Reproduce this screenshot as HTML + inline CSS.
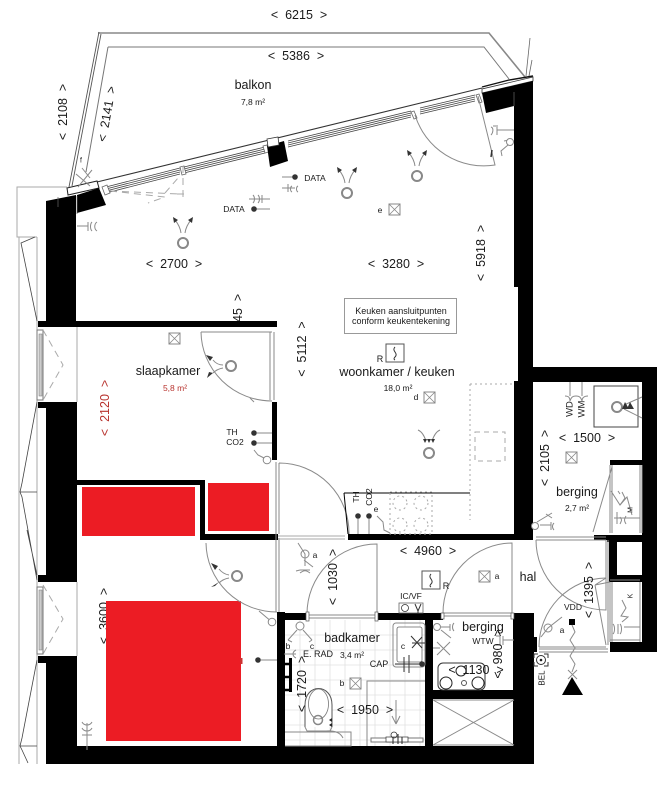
<!DOCTYPE html>
<html>
<head>
<meta charset="utf-8">
<style>
html,body{margin:0;padding:0;background:#fff;width:670px;height:800px;overflow:hidden}
svg{display:block;filter:blur(.3px)}
text{font-family:"Liberation Sans",sans-serif;fill:#1a1a1a;text-anchor:middle;dominant-baseline:central}
.d{font-size:12.5px}
.s{font-size:8.5px}
.g{fill:none;stroke:#8a8a8a;stroke-width:1}
.k{fill:none;stroke:#333;stroke-width:1}
.l{fill:none;stroke:#aaa;stroke-width:1}
.dash{fill:none;stroke:#aaa;stroke-width:1;stroke-dasharray:7 5}
.dot{fill:none;stroke:#aaa;stroke-width:1;stroke-dasharray:2 3}
.w{fill:#000}
</style>
</head>
<body>
<svg width="670" height="800" viewBox="0 0 670 800" xmlns="http://www.w3.org/2000/svg">
<defs>
<g id="xb"><rect x="0" y="0" width="11" height="11" fill="#fff" stroke="#888" stroke-width="1"/><path d="M0 0L11 11M11 0L0 11" stroke="#888" stroke-width=".8"/></g>
<g id="ring"><circle cx="0" cy="0" r="5" fill="none" stroke="#888" stroke-width="2"/></g>
<g id="up"><circle cx="0" cy="0" r="5" fill="none" stroke="#888" stroke-width="2"/><path d="M-2 -10Q-3 -17 -8 -23M2 -10Q3 -17 8 -23" class="g"/><path d="M-10 -26L-5 -23L-9 -20ZM10 -26L5 -23L9 -20Z" fill="#333"/></g>
</defs>

<!-- tile grid bathroom -->
<path d="M285 635H425M285 650H425M285 665H425M285 680H425M285 695H425M285 710H425M285 725H425M285 740H425M300 620V746M315 620V746M330 620V746M345 620V746M360 620V746M375 620V746M390 620V746M405 620V746M420 620V746" stroke="#e2e2e2" stroke-width=".8" fill="none"/>

<!-- left gallery -->
<path d="M67 187H17V237H37M19 237V764M37 237V764" class="l" stroke-width="1.2"/>
<path d="M35 237L21 243L37 321M37 402L22 483L20 492L22 497L37 580M27 530L37 575M37 660L22 738L20 746L22 750L28 763M20 492H37M20 746H37" fill="none" stroke="#444" stroke-width=".8"/>

<!-- balcony -->
<path d="M98 33H489L525 77" fill="none" stroke="#888" stroke-width="1.6"/>
<path d="M99 32L69 187M101 34L72 186" fill="none" stroke="#555" stroke-width=".9"/>
<path d="M108 47H484L509 79M108 47L86 172" fill="none" stroke="#777" stroke-width="1"/>
<path d="M97 182L482 88" fill="none" stroke="#333" stroke-width="1.1"/>
<path d="M530 38L526 76M532 60L529 76" fill="none" stroke="#666" stroke-width=".8"/>
<path d="M482 87L509 80L533 76" fill="none" stroke="#111" stroke-width="1.4"/>
<path d="M482 89V93L533 81V77Z" fill="#fff" stroke="#333" stroke-width=".8"/>
<path d="M67 188L97 181L99 188L68 195Z" fill="#fff" stroke="#222" stroke-width="1"/>
<path d="M76 174L90 186M82 168L90 178M92 170L78 187" class="g" stroke-width=".8"/>
<text x="81" y="161" class="s" style="font-size:7px">f</text>
<!-- window tracks -->
<path d="M106 187L180 168M106 189L180 170M106 191L180 172M106 193L180 174M184 167L265 147M184 169L265 149M184 171L265 151M184 173L265 153M288 141L411 111M288 143L411 113M288 145L411 115M288 147L411 117M420 108L475 95M420 110L475 97M420 112L475 99M420 114L475 101" fill="none" stroke="#444" stroke-width=".8"/>
<path d="M180 167l4 -1l2 8l-4 1zM263 146l4 -1l2 7l-4 1zM411 112l3 -1l3 7l-3 1zM476 95l3 -1l3 8l-3 1zM102 187l5 -2l3 8l-5 2z" fill="#fff" stroke="#666" stroke-width=".8"/>
<!-- mid facade column -->
<path d="M267 146L284 141L288 161L270 167Z" fill="#000"/>
<path d="M267 139L278 137L279 145L268 147Z" fill="#fff" stroke="#333" stroke-width=".8"/>

<!-- hidden by walls: dims -->
<text class="d" transform="translate(238,322) rotate(-90)">&lt;&nbsp;&nbsp;1345&nbsp;&nbsp;&gt;</text>
<rect x="225" y="327" width="30" height="30" fill="#fff"/>
<text class="d" transform="translate(104,616) rotate(-90)">&lt;&nbsp;&nbsp;3600&nbsp;&nbsp;&gt;</text>
<!-- walls -->
<g class="w">
<path d="M46 201L76 195V327H38V321H46Z"/>
<path d="M77 195L99 188L106 205L77 213Z"/>
<path d="M76 321H277V327H76Z"/>
<rect x="38" y="402" width="8" height="6"/>
<rect x="46" y="402" width="31" height="173"/>
<rect x="38" y="575" width="39" height="7"/>
<rect x="38" y="656" width="39" height="7"/>
<rect x="46" y="656" width="31" height="108"/>
<rect x="76" y="746" width="458" height="18"/>
<path d="M482 93L533 81V367H657V652H610V642H642V582H609V575H642V542H617V575H609V542H607V535H642V465H610V460H642V382H533V540H514V381H518V287H514V106L486 113Z"/>
<rect x="77" y="480" width="128" height="5"/>
<rect x="200" y="480" width="5" height="60"/>
<rect x="200" y="534" width="78" height="6"/>
<rect x="272" y="402" width="5" height="58"/>
<rect x="348" y="534" width="166" height="6"/>
<rect x="277" y="612" width="8" height="134"/>
<rect x="285" y="613" width="22" height="7"/>
<rect x="378" y="613" width="65" height="7"/>
<rect x="425" y="620" width="8" height="126"/>
<rect x="433" y="690" width="81" height="9"/>
<rect x="433" y="746" width="81" height="18"/>
<rect x="513" y="613" width="21" height="151"/>
<rect x="533" y="637" width="4" height="15"/>
<rect x="594" y="535" width="13" height="5"/>
</g>
<path d="M58 197V207M77 196V214M514 92V106" stroke="#666" stroke-width=".7" fill="none"/>

<!-- left windows -->
<g>
<path d="M77 327V402M77 582V656" class="l" stroke-width="1.2"/>
<rect x="37" y="330" width="6" height="70" fill="#fff" stroke="#777"/>
<rect x="39" y="334" width="3" height="62" fill="#ccc" stroke="#777" stroke-width=".5"/>
<rect x="37" y="587" width="6" height="67" fill="#fff" stroke="#777"/>
<rect x="39" y="590" width="3" height="60" fill="#ccc" stroke="#777" stroke-width=".5"/>
<path d="M43 330L63 365L43 400M43 585L63 619L43 654" class="dash"/>
</g>
<path d="M110 191L165 197L148 203M110 191L180 194M165 193L178 178M183 166V200M177 194H188" class="dash" stroke-width=".8"/>

<!-- red furniture -->
<rect x="82" y="487" width="113" height="49" fill="#ec1c24"/>
<rect x="208" y="483" width="61" height="48" fill="#ec1c24"/>
<rect x="106" y="601" width="135" height="140" fill="#ec1c24"/>
<rect x="240" y="658" width="2.5" height="6" fill="#c33"/>

<!-- doors -->
<g class="g">
<path d="M415 115A72 72 0 0 0 495 165L478 96"/>
<path d="M201 332H272M201 332A71 70 0 0 0 272 401M270 332V400M274 332V400"/>
<path d="M279 463A70 70 0 0 1 349 534M279 463V534M276 462V612M279 538V612"/>
<path d="M206 543A71 70 0 0 0 277 612"/>
<path d="M307 614A70 70 0 0 1 377 544V614M307 615H377M307 618H377"/>
<path d="M443 613A70 70 0 0 1 512 543V613M443 613H512M443 616H512"/>
<path d="M536 540A70 70 0 0 0 606 610V540M536 537H606M536 540H606"/>
<path d="M539 647A68 69 0 0 1 606 578M539 647H606M539 652H608M539 649H608"/>
<path d="M595 585L606 645M595 585L610 582M595 585L606 578"/>
<path d="M612 467L593 532M612 465V533M610 465V533M640 465V533M642 465V533"/>
<path d="M610 582V642M640 582V642M610 580H640M610 640H640M612 582V642"/>
<path d="M606 540V610M608 540V645"/>
</g>
<path d="M278 536H345M278 539H345" class="l"/>
<rect x="306" y="612" width="3" height="9" fill="#fff" stroke="#555" stroke-width=".7"/>
<rect x="375" y="612" width="3" height="9" fill="#fff" stroke="#555" stroke-width=".7"/>
<rect x="441" y="613" width="3" height="6" fill="#fff" stroke="#555" stroke-width=".7"/>
<rect x="511" y="613" width="3" height="6" fill="#fff" stroke="#555" stroke-width=".7"/>

<!-- shaft X -->
<path d="M433 700H514M433 745H514M433 700L514 745M514 700L433 745" class="g"/>

<!-- note box -->
<rect x="344.500" y="298.500" width="112" height="35" fill="#fff" stroke="#999"/>
<text x="401" y="311" style="font-size:9px">Keuken aansluitpunten</text>
<text x="401" y="321" style="font-size:9px">conform keukentekening</text>

<!-- kitchen -->
<path d="M344 493H470M344 493L348 534" fill="none" stroke="#000" stroke-width="1"/>
<path d="M470 384H514M470 384V520" class="dot"/>
<rect x="475" y="432" width="30" height="29" fill="none" stroke="#aaa" stroke-dasharray="5 4"/>
<rect x="390" y="492" width="42" height="42" class="dot"/>
<g class="dot"><circle cx="400" cy="503" r="7"/><circle cx="421" cy="503" r="7"/><circle cx="400" cy="525" r="7"/><circle cx="421" cy="525" r="7"/></g>
<circle cx="358" cy="516" r="2.800" fill="#333"/><circle cx="369" cy="516" r="2.800" fill="#333"/>
<path d="M358 519V534M369 519V534M377 516L383 522L384 530L390 533" class="g"/>

<!-- berging top -->
<rect x="594" y="386" width="44" height="41" fill="#fff" stroke="#444" stroke-width="1"/>
<use href="#ring" x="617" y="407"/>
<path d="M624 405L642 397M624 409L642 418" class="g"/>
<path d="M625 402L629 409H622ZM630 402L634 409H627Z" fill="#333"/>
<path d="M570 382V396M582 382V396M565 396C569 396 570 398 570 401C571 398 572 396 576 396C580 396 581 398 582 401C582 398 584 396 588 396" class="g"/>
<!-- berging bottom sockets -->
<path d="M611 491L620 505L627 497L632 515M614 518H640M617 512V524M620 517C622 520 622 520 620 524M626 516C624 519 624 521 626 524" class="g"/>
<path d="M540 525H551M551 522V530M554 523C552 525 552 528 554 530M537 522L552 513M546 514L552 518" class="g"/>
<circle cx="535" cy="526" r="3.500" fill="#fff" stroke="#888"/>

<!-- misc sensors -->
<use href="#up" x="183" y="243"/>
<use href="#up" x="347" y="193"/>
<use href="#up" x="417" y="176"/>
<g transform="translate(429,453)"><circle r="5" fill="none" stroke="#888" stroke-width="2"/><path d="M-3 -12Q-6 -21 -11 -23M3 -12Q6 -21 11 -23" class="g"/><path d="M-4 -10L-6 -14H-2ZM4 -10L6 -14H2ZM0 -10L-2 -14H2Z" fill="#333"/></g>
<g transform="translate(231,366)"><circle r="5" fill="none" stroke="#888" stroke-width="2"/><path d="M-8 -1Q-14 -1 -18 -6M-8 2Q-14 3 -18 7" class="g"/><path d="M-25 -11L-18 -9L-21 -5ZM-24 12L-18 7L-22 6Z" fill="#333"/></g>
<g transform="translate(237,576)"><circle r="5" fill="none" stroke="#888" stroke-width="2"/><path d="M-8 -1Q-14 -2 -18 -7M-8 2Q-14 3 -18 7" class="g"/><path d="M-26 -13L-19 -10L-22 -6ZM-26 11L-18 6L-22 10Z" fill="#333"/></g>
<use href="#xb" x="389" y="204"/>
<use href="#xb" x="169" y="333"/>
<use href="#xb" x="424" y="392"/>
<use href="#xb" x="566" y="452"/>
<use href="#xb" x="350" y="678"/>
<use href="#xb" x="479" y="571"/>
<!-- R boxes -->
<rect x="386" y="344" width="18" height="18" fill="#fff" stroke="#555"/>
<path d="M395 347C391 351 399 353 395 357Q393 359 395 360" class="k"/>
<rect x="422" y="571" width="18" height="18" fill="#fff" stroke="#555"/>
<path d="M431 574C427 578 435 580 431 584Q429 586 431 587" class="k"/>
<!-- DATA -->
<path d="M282 177H295M255 209H270M249 199H270M282 188H295" class="g"/>
<circle cx="295" cy="177" r="2.800" fill="#333"/>
<circle cx="254" cy="209" r="2.800" fill="#333"/>
<path d="M288 184V192M292 186C290 187 290 191 292 192M298 186C296 187 296 191 298 192M262 195V203M258 195C260 197 260 201 258 203M253 195C255 197 255 201 253 203" class="g" stroke-width=".8"/>
<path d="M77 226H88M88 222V231M92 222C90 224 90 229 92 231M97 222C94 224 94 229 97 231" class="g"/>
<path d="M514 130H497M497 125V135M491 127C494 128 493 133 491 135M496 126H493" class="g"/>
<path d="M514 141H509M504 141l5 -1l-1 5l-7 6l1 5M509 141" class="g"/><circle cx="510" cy="142" r="3.500" fill="#fff" stroke="#888"/>
<path d="M492 150L491 157" stroke="#333" stroke-width="1.500"/>
<!-- TH CO2 -->
<circle cx="254" cy="433" r="2.800" fill="#333"/><circle cx="254" cy="443" r="2.800" fill="#333"/>
<path d="M257 433H272M257 443H272M254 450L258 455L264 458L268 460" class="g"/>
<circle cx="267" cy="460" r="3.800" fill="#fff" stroke="#888"/>
<path d="M250 398L254 402" class="g"/>
<!-- bed socket + lamp -->
<circle cx="258" cy="660" r="2.800" fill="#333"/><path d="M261 660H277" class="g"/>
<path d="M87 750V723M82 722C84 726 90 726 92 722M82 728C84 732 90 732 92 728M82 735H92" class="g"/>
<path d="M259 611L266 617L272 622" class="g"/><circle cx="272" cy="622" r="3.800" fill="#fff" stroke="#888"/>
<!-- a lamp hall -->
<circle cx="305" cy="554" r="4" fill="#fff" stroke="#888"/><path d="M298 543L305 554V566M304 560L313 567M300 570H310M300 573C304 570 306 570 310 573M296 571L300 570" class="g"/>
<!-- bath lamps -->
<circle cx="300" cy="626" r="4" fill="#fff" stroke="#888"/><path d="M297 630L288 640M303 630L312 640M288 640L292 642M312 640L309 642" class="g"/>
<path d="M284 654H296M296 650C292 652 292 656 296 658" class="g"/>
<rect x="289" y="658" width="3" height="34" fill="#000"/>
<path d="M285 664H291M285 677H291M285 690H291" stroke="#000" stroke-width="2.500"/>
<!-- toilet -->
<path d="M305 727V705C305 683 332 683 332 705V727" fill="#fff" stroke="#555"/>
<ellipse cx="318.500" cy="704" rx="10" ry="15" fill="none" stroke="#777" stroke-width=".8"/>
<circle cx="318" cy="720" r="4.500" fill="none" stroke="#888" stroke-width="1.500"/>
<path d="M305 727L307 731H330L332 727M307 731H326Q339 730 343 738M285 732H351V746H285" class="g"/>
<path d="M332 718L329 720L332 722ZM332 723L329 725L332 727Z" fill="#222"/>
<!-- shower -->
<rect x="393" y="623" width="32" height="44" rx="3" fill="none" stroke="#888" stroke-width="1"/>
<rect x="397" y="627" width="25" height="35" rx="2" fill="#fff" stroke="#666" stroke-width=".8"/>
<path d="M412 643L425 643M411 636L422 648M422 637L412 648M395 664H421M404 657V672M409 655V673" class="k" stroke-width=".7"/>
<circle cx="422" cy="664" r="2.800" fill="#333"/>
<path d="M367 746V681H425M396 700V724M396 724L392 716M396 724L400 716" class="g"/>
<rect x="371" y="738" width="52" height="4" fill="#fff" stroke="#777"/>
<rect x="386" y="737" width="22" height="5" fill="#fff" stroke="#333" stroke-width=".7"/>
<path d="M393 737V744M398 734V744M402 737V744" stroke="#222" fill="none"/>
<circle cx="394" cy="735" r="3" fill="none" stroke="#333" stroke-width=".8"/>
<!-- IC/VF -->
<rect x="399" y="603" width="24" height="10" fill="#fff" stroke="#666" stroke-width=".8"/>
<circle cx="405" cy="608" r="3.500" fill="none" stroke="#333" stroke-width=".8"/><path d="M415 604L418 611M421 604L418 611M418 611V613" class="k"/>
<!-- berging small -->
<circle cx="437" cy="627" r="3.500" fill="#fff" stroke="#888"/>
<path d="M441 627H450M450 624V631M454 623C452 625 452 629 454 631M441 630L451 638M433 648H440" class="g"/>
<path d="M437 642L450 655M450 642L437 655" class="g"/>
<path d="M514 640H503M503 636V645M496 636H500V645H496" class="g"/>
<rect x="438" y="663" width="47" height="27" rx="5" fill="none" stroke="#333"/>
<circle cx="446" cy="683" r="6" fill="#fff" stroke="#222"/>
<circle cx="478" cy="683" r="6" fill="#fff" stroke="#222"/>
<circle cx="464" cy="683" r="2.500" fill="#fff" stroke="#555"/>
<circle cx="461" cy="671" r="5" fill="#fff" stroke="#222"/>
<!-- hall -->
<circle cx="548" cy="628" r="4" fill="#fff" stroke="#888"/><path d="M541 637L548 628L562 617" class="g"/>
<rect x="569" y="619" width="6" height="6" fill="#000"/>
<path d="M572 625L575 632L570 640L575 648L570 656L575 664L572 672M568 670L577 679M577 670L568 679" class="g"/>
<path d="M572 677L583 695H562Z" fill="#000"/>
<path d="M534 658V654H538M544 654H548V658M548 662V666H544M538 666H534V662" class="k"/>
<circle cx="541" cy="660" r="4.500" fill="none" stroke="#333"/><circle cx="541" cy="660" r="1.300" fill="#222"/>
<path d="M620 505l5 -7l-3 -6M618 491l2 3" class="g"/>
<path d="M622 600L626 608L621 616L628 617L622 622M624 627H640M618 624V634M613 624C615 626 615 632 613 634M620 624C622 626 622 632 620 634" class="g"/>

<!-- labels -->
<text x="299" y="15" class="d">&lt;&nbsp;&nbsp;6215&nbsp;&nbsp;&gt;</text>
<text x="296" y="56" class="d">&lt;&nbsp;&nbsp;5386&nbsp;&nbsp;&gt;</text>
<text x="253" y="85" class="d">balkon</text>
<text x="253" y="102" class="s">7,8 m²</text>
<text class="d" transform="translate(63,112) rotate(-90)">&lt;&nbsp;&nbsp;2108&nbsp;&nbsp;&gt;</text>
<text class="d" transform="translate(107,114) rotate(-80)">&lt;&nbsp;&nbsp;2141&nbsp;&nbsp;&gt;</text>
<text x="174" y="264" class="d">&lt;&nbsp;&nbsp;2700&nbsp;&nbsp;&gt;</text>
<text x="396" y="264" class="d">&lt;&nbsp;&nbsp;3280&nbsp;&nbsp;&gt;</text>
<text class="d" transform="translate(481,253) rotate(-90)">&lt;&nbsp;&nbsp;5918&nbsp;&nbsp;&gt;</text>
<text class="d" transform="translate(302,349) rotate(-90)">&lt;&nbsp;&nbsp;5112&nbsp;&nbsp;&gt;</text>
<text class="d" transform="translate(105,408) rotate(-90)" style="fill:#b8332e">&lt;&nbsp;&nbsp;2120&nbsp;&nbsp;&gt;</text>
<text x="168" y="371" class="d">slaapkamer</text>
<text x="175" y="388" class="s" style="fill:#b8332e">5,8 m²</text>
<text x="232" y="432" class="s">TH</text>
<text x="235" y="442" class="s">CO2</text>
<text x="397" y="372" class="d">woonkamer / keuken</text>
<text x="398" y="388" class="s">18,0 m²</text>
<text x="416" y="397" class="s">d</text>
<text x="380" y="359" class="s" style="font-size:9px">R</text>
<text x="380" y="210" class="s">e</text>
<text x="315" y="178" class="s">DATA</text>
<text x="234" y="209" class="s">DATA</text>
<text class="s" transform="translate(570,409) rotate(-90)" style="font-size:9.500px">WD</text>
<text class="s" transform="translate(582,409) rotate(-90)" style="font-size:9.500px">WM</text>
<text x="587" y="438" class="d">&lt;&nbsp;&nbsp;1500&nbsp;&nbsp;&gt;</text>
<text class="d" transform="translate(545,458) rotate(-90)">&lt;&nbsp;&nbsp;2105&nbsp;&nbsp;&gt;</text>
<text x="577" y="492" class="d">berging</text>
<text x="577" y="508" class="s">2,7 m²</text>
<text class="s" transform="translate(356,497) rotate(-90)">TH</text>
<text class="s" transform="translate(369,497) rotate(-90)">CO2</text>
<text x="376" y="509" class="s">e</text>
<text x="428" y="551" class="d">&lt;&nbsp;&nbsp;4960&nbsp;&nbsp;&gt;</text>
<text x="528" y="577" class="d">hal</text>
<text class="d" transform="translate(589,590) rotate(-90)">&lt;&nbsp;&nbsp;1395&nbsp;&nbsp;&gt;</text>
<text x="573" y="607" class="s">VDD</text>
<text x="483" y="627" class="d">berging</text>
<text x="483" y="641" class="s">WTW</text>
<text class="d" transform="translate(498,654) rotate(-90)">&lt;&nbsp;&nbsp;980&nbsp;&nbsp;&gt;</text>
<text x="476" y="670" class="d">&lt;&nbsp;&nbsp;1130&nbsp;&nbsp;&gt;</text>
<text class="s" transform="translate(542,678) rotate(-90)" style="font-size:8px">BEL</text>
<text class="d" transform="translate(333,577) rotate(-90)">&lt;&nbsp;&nbsp;1030&nbsp;&nbsp;&gt;</text>
<text x="352" y="638" class="d">badkamer</text>
<text x="318" y="654" class="s" style="font-size:9px">E. RAD</text>
<text x="352" y="655" class="s">3,4 m²</text>
<text x="288" y="646" class="s">b</text>
<text x="312" y="646" class="s">c</text>
<text x="403" y="646" class="s">c</text>
<text x="379" y="664" class="s" style="font-size:9px">CAP</text>
<text x="342" y="683" class="s">b</text>
<text class="d" transform="translate(302,684) rotate(-90)">&lt;&nbsp;&nbsp;1720&nbsp;&nbsp;&gt;</text>
<text x="365" y="710" class="d">&lt;&nbsp;&nbsp;1950&nbsp;&nbsp;&gt;</text>
<text x="411" y="596" class="s">IC/VF</text>
<text x="446" y="586" class="s" style="font-size:9px">R</text>
<text x="315" y="555" class="s">a</text>
<text x="497" y="576" class="s">a</text>
<text x="562" y="630" class="s">a</text>
<text class="s" transform="translate(631,510) rotate(-90)" style="font-size:7px">M</text>
<text class="s" transform="translate(631,596) rotate(-90)" style="font-size:7px">K</text>
</svg>
</body>
</html>
